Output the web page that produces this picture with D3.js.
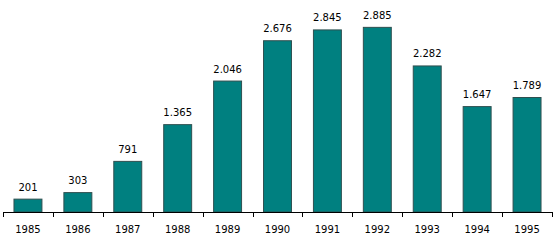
<!DOCTYPE html>
<html>
<head>
<meta charset="utf-8">
<script src="https://cdn.jsdelivr.net/npm/d3@7"></script>
<style>
  body { margin: 0; background: #fff; }
  text { font-family: "DejaVu Sans", Verdana, sans-serif; font-size: 10px; fill: #000; }
</style>
</head>
<body>
<div id="chart"></div>
<script>
var years = ["1985", "1986", "1987", "1988", "1989", "1990", "1991", "1992", "1993", "1994", "1995"];
var values = [201, 303, 791, 1365, 2046, 2676, 2845, 2885, 2282, 1647, 1789];

var width = 555,
    height = 246;

var svg = d3.select("#chart").append("svg")
    .attr("width", width)
    .attr("height", height);

var x = d3.scaleBand()
    .domain(years)
    .range([3, 552])
    .paddingInner(0.44)
    .paddingOuter(0.22);

var y = d3.scaleLinear()
    .domain([0, 3000])
    .range([212, 20]);

// thousands use a dot, like the original
var fmt = d3.formatLocale({decimal: ",", thousands: ".", grouping: [3], currency: ["", ""]}).format(",d");

svg.selectAll(".bar")
  .data(values)
  .enter().append("rect")
    .attr("class", "bar")
    .attr("x", function(d, i) { return x(years[i]); })
    .attr("y", function(d) { return y(d); })
    .attr("width", x.bandwidth())
    .attr("height", function(d) { return y(0) - y(d); })
    .attr("fill", "#008080")
    .attr("stroke", "#2f4f4f")
    .attr("stroke-width", 1);

svg.selectAll(".lbl")
  .data(values)
  .enter().append("text")
    .attr("class", "lbl")
    .attr("x", function(d, i) { return x(years[i]) + x.bandwidth() / 2; })
    .attr("y", function(d) { return y(d) - 8.5; })
    .attr("text-anchor", "middle")
    .text(function(d) { return fmt(d); });

// x axis: baseline with ticks at the band edges
var axis = svg.append("g");
axis.append("line")
    .attr("x1", 3).attr("x2", 552)
    .attr("y1", 212.5).attr("y2", 212.5)
    .attr("stroke", "#000");

var edges = d3.range(years.length + 1).map(function(i) { return 3 + i * (549 / years.length); });
axis.selectAll(".tick")
  .data(edges)
  .enter().append("line")
    .attr("x1", function(d) { return Math.round(d) + 0.5; })
    .attr("x2", function(d) { return Math.round(d) + 0.5; })
    .attr("y1", 212).attr("y2", 217)
    .attr("stroke", "#000");

axis.selectAll(".yr")
  .data(years)
  .enter().append("text")
    .attr("x", function(d) { return x(d) + x.bandwidth() / 2; })
    .attr("y", 233)
    .attr("text-anchor", "middle")
    .text(function(d) { return d; });
</script>
</body>
</html>
